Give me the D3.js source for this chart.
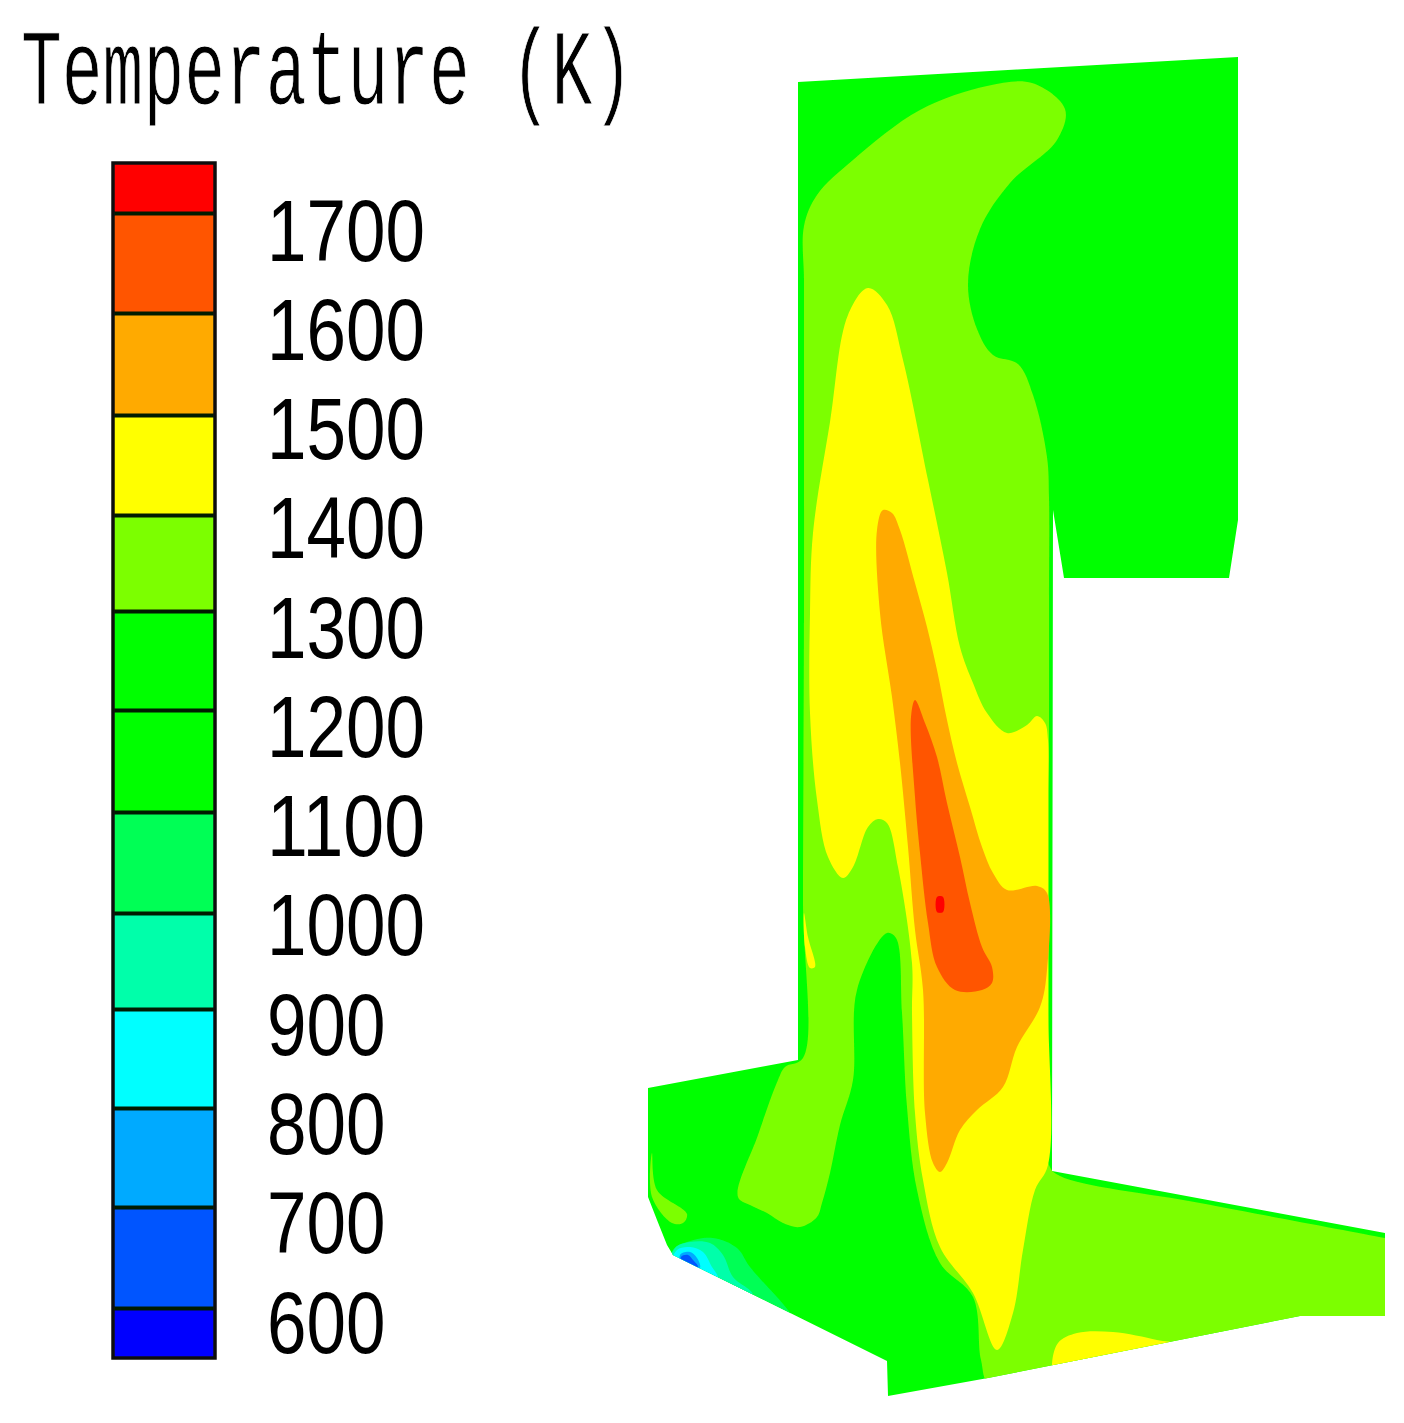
<!DOCTYPE html>
<html>
<head>
<meta charset="utf-8">
<script src="https://cdn.jsdelivr.net/npm/d3@7"></script>
<style>
html, body { margin: 0; background: #fff; }
svg { display: block; }
text { font-family: "Liberation Mono", monospace; fill: #000; }
</style>
</head>
<body>
<svg id="chart" width="1404" height="1423"></svg>
<script>
// contour levels (K) and band colours, coldest first
const levels = [600, 700, 800, 900, 1000, 1100, 1200, 1300, 1400, 1500, 1600, 1700];
const bandColors = ["#0000ff", "#0055ff", "#00aaff", "#00ffff", "#00ffaa", "#00ff55", "#00ff00",
    "#00ff00", "#7cff00", "#ffff00", "#ffaa00", "#ff5500", "#ff0000"];
const legendRange = [550, 1750];
const titleText = "Temperature (K)";

// geometry section outline, model units
const outline = [[158,32],[598,7],[598,470],[589,528],[424,528],[413,460],[412,1121],[745,1183],[745,1266],
    [660,1266],[348,1328],[248,1346],[247,1311],[33,1205],[27,1195],[17,1170],[8,1147],[8,1038],[158,1010]];

// contour regions, model units
const region1300 = [[392,33],[425,59],[417,90],[370,133],[340,179],[328,234],[337,279],[353,305],[378,314],
    [393,345],[407,407],[409,448],[409,550],[409,740],[409,950],[409,1115],[420,1126],[560,1153],[745,1188],[770,1193],
    [760,1280],[660,1280],[460,1330],[350,1335],[341,1310],[333,1247],[300,1213],[277,1140],[267,1057],
    [262,963],[256,888],[247,883],[217,940],[213,1030],[200,1075],[190,1123],[182,1153],[177,1167],[160,1177],[143,1173],
    [127,1163],[110,1155],[98,1147],[118,1085],[138,1030],[145,1017],[163,1008],[163,850],[164,550],[164,350],[164,280],
    [164,230],[164,176],[177,145],[213,110],[280,60],[347,36]];
const patch1300 = [[12,1103],[17,1140],[47,1164],[43,1173],[32,1173],[12,1147]];
const region1400 = [[228,238],[208,265],[190,372],[173,483],[170,563],[170,663],[177,750],[188,807],[203,828],
    [213,817],[228,777],[238,769],[247,773],[258,817],[272,913],[272,963],[275,1063],[283,1130],[300,1197],
    [333,1243],[357,1300],[373,1263],[383,1200],[395,1140],[408,1115],[408,950],[408,750],[408,690],[405,673],[397,666],
    [387,675],[367,683],[347,663],[333,633],[320,597],[307,523],[288,430],[263,310],[247,255]];
const sliver1400 = [[164,863],[168,887],[175,917],[170,918],[165,897]];
const floor1400 = [[412,1320],[418,1293],[437,1283],[473,1282],[517,1290],[535,1295],[510,1330],[420,1345]];
const region1500 = [[243,460],[237,480],[240,563],[252,647],[260,713],[268,797],[275,880],[283,940],[285,1063],
    [293,1113],[300,1122],[307,1113],[320,1080],[337,1060],[363,1037],[377,997],[400,957],[407,920],[407,843],
    [397,836],[367,840],[353,823],[342,797],[330,757],[317,713],[307,670],[297,620],[287,577],[275,533],[260,480],[252,463]];
const region1600 = [[275,650],[271,667],[275,747],[280,803],[288,873],[297,917],[315,940],[342,940],[352,933],
    [352,917],[342,897],[330,853],[320,807],[307,753],[297,707],[285,673]];
const region1700 = [[297,847],[303,847],[303,862],[297,862]];
const cold1000 = [[33,1200],[47,1192],[73,1188],[97,1198],[110,1217],[153,1267],[160,1285],[30,1225]];
const cold900 = [[35,1198],[50,1192],[70,1193],[83,1205],[93,1227],[113,1245],[100,1260],[30,1225]];
const cold800 = [[37,1200],[50,1197],[63,1202],[72,1217],[78,1228],[70,1245],[30,1225]];
const cold700 = [[40,1205],[50,1202],[57,1208],[60,1218],[45,1225]];
const cold600 = [[41,1207],[48,1205],[53,1210],[58,1217],[45,1222]];

const regions = [
    [1350, region1300], [1350, patch1300], [1450, region1400], [1450, sliver1400], [1450, floor1400],
    [1550, region1500], [1650, region1600], [1750, region1700],
    [1050, cold1000], [950, cold900], [850, cold800], [750, cold700], [650, cold600]
];

const svg = d3.select("#chart");
const color = d3.scaleThreshold().domain(levels).range(bandColors);

const x = d3.scaleLinear().domain([0, 760]).range([640, 1400]);
const y = d3.scaleLinear().domain([0, 1350]).range([50, 1400]);

// the colour bar's bands are not quite even in the picture
const bands = [legendRange[0], ...levels, legendRange[1]];
const legendY = d3.scaleLinear().domain(bands)
    .range([1358, 1308, 1207, 1108, 1009, 913, 812, 710, 611, 515, 415, 313, 213, 163]);
const labelY = d3.scaleLinear().domain([600, 1700]).range([1352, 260]);

// the picture is an upscaled bitmap, so everything is slightly soft
const defs = svg.append("defs");
defs.append("filter").attr("id", "soft")
    .append("feGaussianBlur").attr("stdDeviation", 0.7);
defs.append("clipPath").attr("id", "section")
    .append("path")
    .attr("d", d3.line().x(d => x(d[0])).y(d => y(d[1])).curve(d3.curveLinearClosed)(outline));

// field
const field = svg.append("g").attr("filter", "url(#soft)");
const inside = field.append("g").attr("clip-path", "url(#section)");
inside.append("rect")
    .attr("x", x(0)).attr("y", y(0))
    .attr("width", x(760) - x(0)).attr("height", y(1350) - y(0))
    .attr("fill", color(1200));

const contour = d3.line().x(d => x(d[0])).y(d => y(d[1])).curve(d3.curveCatmullRomClosed.alpha(0.5));
inside.selectAll("path.band")
    .data(regions)
    .join("path")
    .attr("class", "band")
    .attr("d", d => contour(d[1]))
    .attr("fill", d => color(d[0]));

// legend
const legend = svg.append("g").attr("filter", "url(#soft)");
const barLeft = 113, barRight = 215;
legend.selectAll("rect")
    .data(d3.pairs(bands))
    .join("rect")
    .attr("x", barLeft).attr("width", barRight - barLeft)
    .attr("y", d => legendY(d[1]))
    .attr("height", d => legendY(d[0]) - legendY(d[1]))
    .attr("fill", d => color(d[0]));

const axis = legend.append("g")
    .attr("transform", `translate(${barRight},0)`)
    .call(d3.axisRight(legendY).tickValues(levels).tickSize(barLeft - barRight).tickFormat(d3.format("d")));
axis.select(".domain").remove();
axis.selectAll("line").attr("stroke", "#061a06").attr("stroke-width", 4);
axis.selectAll("text")
    .attr("x", 52)
    .attr("y", d => labelY(d) - legendY(d))
    .attr("dy", null)
    .attr("font-family", null)
    .style("font-family", '"Liberation Sans", sans-serif')
    .style("font-size", "88px")
    .attr("textLength", d => String(d).length * 39.5)
    .attr("lengthAdjust", "spacingAndGlyphs");

legend.append("rect")
    .attr("x", barLeft).attr("y", legendY(legendRange[1]))
    .attr("width", barRight - barLeft).attr("height", legendY(legendRange[0]) - legendY(legendRange[1]))
    .attr("fill", "none").attr("stroke", "#111").attr("stroke-width", 3.5);

legend.append("text")
    .attr("x", 21).attr("y", 104)
    .style("font-size", "108px")
    .style("stroke", "#fff")
    .style("stroke-width", 1)
    .attr("textLength", 612)
    .attr("lengthAdjust", "spacingAndGlyphs")
    .text(titleText);
</script>
</body>
</html>
